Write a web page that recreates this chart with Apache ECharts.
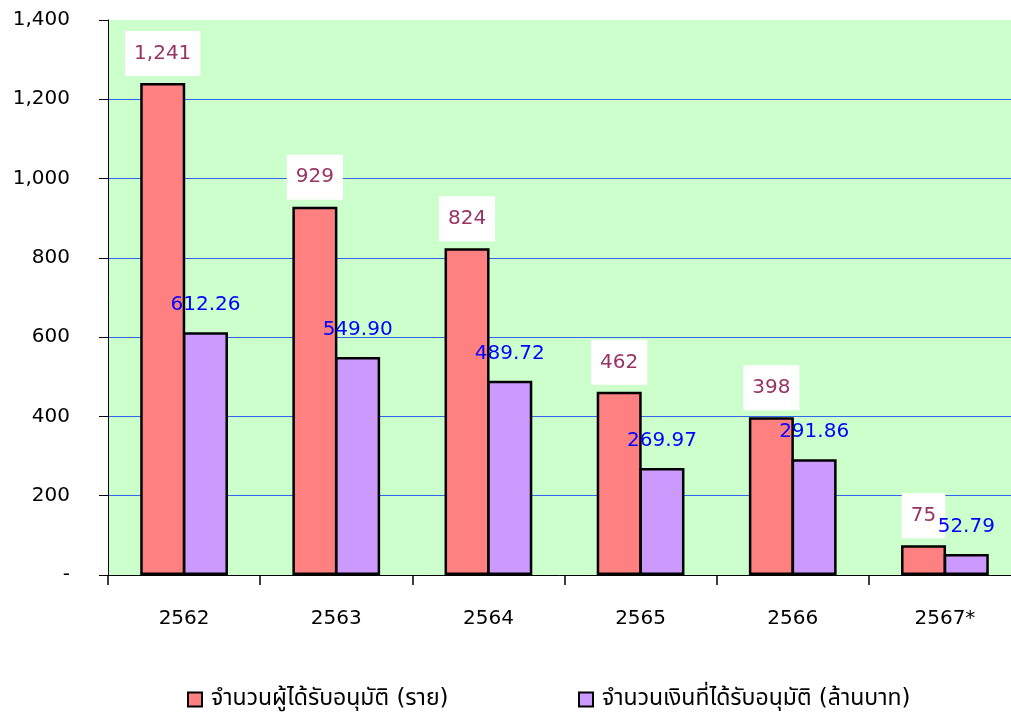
<!DOCTYPE html>
<html>
<head>
<meta charset="utf-8">
<script src="https://cdn.jsdelivr.net/npm/echarts@6/dist/echarts.min.js"></script>
<style>
html,body{margin:0;padding:0;background:#fff;}
#chart{width:1011px;height:713px;}
</style>
</head>
<body>
<div id="chart"></div>
<script>
var categories = ['2562', '2563', '2564', '2565', '2566', '2567*'];
var approvedCount = [1241, 929, 824, 462, 398, 75];
var approvedAmount = [612.26, 549.90, 489.72, 269.97, 291.86, 52.79];
var seriesNames = ['จำนวนผู้ได้รับอนุมัติ (ราย)', 'จำนวนเงินที่ได้รับอนุมัติ (ล้านบาท)'];
var yTicks = { min: 0, max: 1400, interval: 200 };

var FONT = '"DejaVu Sans", "Noto Sans Thai", "Noto Sans", sans-serif';

var chart = echarts.init(document.getElementById('chart'), null, { renderer: 'canvas' });
chart.setOption({
  animation: false,
  backgroundColor: '#ffffff',
  textStyle: { fontFamily: FONT },
  grid: {
    left: 108, top: 20, width: 913, height: 555,
    outerBoundsMode: 'none', containLabel: false,
    show: true, backgroundColor: '#CCFFCC', borderWidth: 0
  },
  legend: [
    {
      data: [seriesNames[0]], left: 187, top: 688, padding: 0,
      itemWidth: 14, itemHeight: 14, itemGap: 10,
      icon: 'rect',
      textStyle: { fontFamily: FONT, fontSize: 23, color: '#000', padding: [0, 0, 0, 4] }
    },
    {
      data: [seriesNames[1]], left: 578, top: 688, padding: 0,
      itemWidth: 14, itemHeight: 14, itemGap: 10,
      icon: 'rect',
      textStyle: { fontFamily: FONT, fontSize: 23, color: '#000', padding: [0, 0, 0, 4] }
    }
  ],
  xAxis: {
    type: 'category',
    data: categories,
    boundaryGap: true,
    axisLine: { show: true, lineStyle: { color: '#000', width: 1 } },
    axisTick: { show: true, alignWithLabel: false, length: 10, lineStyle: { color: '#000', width: 1.5 } },
    axisLabel: { fontFamily: FONT, fontSize: 20, color: '#000', margin: 34 },
    splitLine: { show: false }
  },
  yAxis: {
    type: 'value',
    min: yTicks.min, max: yTicks.max, interval: yTicks.interval,
    axisLine: { show: true, lineStyle: { color: '#000', width: 1 } },
    axisTick: { show: true, inside: false, length: 9, lineStyle: { color: '#000', width: 1 } },
    axisLabel: {
      fontFamily: FONT, fontSize: 20, color: '#000', margin: 38,
      formatter: function (v) { return v === 0 ? '-' : v.toLocaleString('en-US'); }
    },
    splitLine: { show: true, showMinLine: false, showMaxLine: false, lineStyle: { color: '#3366EE', width: 1 } }
  },
  series: [
    {
      name: seriesNames[0],
      type: 'bar',
      data: approvedCount,
      barWidth: 45,
      barGap: '-5%',
      itemStyle: { color: '#FF8080', borderColor: '#000', borderWidth: 2.5 },
      label: {
        show: true, position: 'top', distance: 7,
        fontFamily: FONT, fontSize: 20, color: '#993366',
        backgroundColor: '#ffffff', padding: [12, 9], lineHeight: 21,
        formatter: function (p) { return p.value.toLocaleString('en-US'); }
      }
    },
    {
      name: seriesNames[1],
      type: 'bar',
      data: approvedAmount,
      barWidth: 45,
      itemStyle: { color: '#CC99FF', borderColor: '#000', borderWidth: 2.5 },
      label: {
        show: true, position: 'top', distance: 17,
        fontFamily: FONT, fontSize: 20, color: '#0000FF', lineHeight: 21,
        formatter: function (p) { return p.value.toFixed(2); }
      }
    }
  ]
});
</script>
</body>
</html>
